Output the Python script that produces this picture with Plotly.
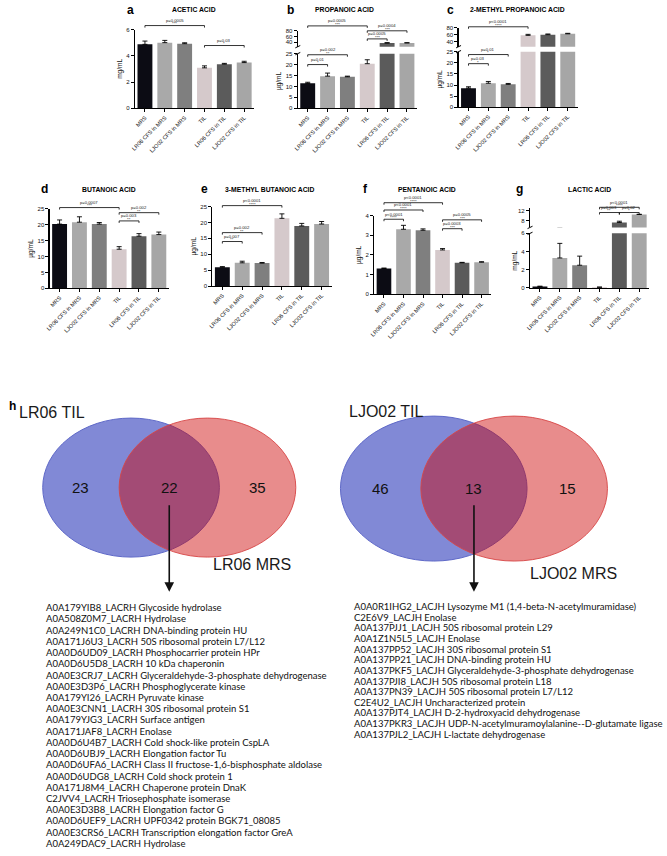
import plotly.graph_objects as go

W, H = 667, 856

# ---------------- data ----------------
categories = ["MRS", "LR06 CFS in MRS", "LJO02 CFS in MRS", "TIL", "LR06 CFS in TIL", "LJO02 CFS in TIL"]

acetic_mean = [4.87, 5.0, 4.92, 3.08, 3.36, 3.48]
acetic_sd = [0.25, 0.17, 0.07, 0.15, 0.06, 0.10]
acetic_sig = [(0, 3, "p=0.0005", "***"), (3, 5, "p=0.03", "*")]

propanoic_mean = [11.4, 14.7, 14.4, 20.4, 37.5, 38.0]
propanoic_sd = [0.5, 1.4, 0.3, 1.8, 1.5, 0.8]
propanoic_sig = [(0, 1, "p=0.01", "*"), (0, 2, "p=0.002", "**"), (0, 3, "p=0.0005", "***"),
                 (3, 4, "p=0.0005", "***"), (3, 5, "p=0.0004", "***")]

methylpropanoic_mean = [8.6, 10.8, 10.3, 58.0, 60.0, 62.5]
methylpropanoic_sd = [0.6, 0.8, 0.4, 3.0, 2.0, 1.5]
methylpropanoic_sig = [(0, 1, "p=0.03", "*"), (0, 2, "p=0.01", "*"), (0, 3, "p<0.0001", "****")]

butanoic_mean = [20.2, 20.8, 20.2, 12.3, 16.4, 16.9]
butanoic_sd = [1.3, 1.7, 0.5, 0.8, 0.8, 0.8]
butanoic_sig = [(0, 3, "p=0.0007", "***"), (3, 5, "p=0.002", "**"), (3, 4, "p=0.003", "**")]

methylbutanoic_mean = [5.9, 7.3, 7.2, 21.3, 18.9, 19.5]
methylbutanoic_sd = [0.2, 0.5, 0.2, 1.4, 0.8, 0.8]
methylbutanoic_sig = [(0, 1, "p=0.007", "**"), (0, 2, "p=0.002", "**"), (0, 3, "p<0.0001", "****")]

pentanoic_mean = [1.31, 3.30, 3.25, 2.25, 1.60, 1.63]
pentanoic_sd = [0.02, 0.20, 0.07, 0.07, 0.02, 0.02]
pentanoic_sig = [(0, 1, "p<0.0001", "****"), (0, 2, "p<0.0001", "****"), (0, 3, "p<0.0001", "****"),
                 (3, 4, "p=0.0003", "***"), (3, 5, "p=0.0005", "***")]

lactic_mean = [0.15, 3.3, 2.5, 0.08, 7.2, 10.4]
lactic_sd = [0.05, 1.6, 1.0, 0.02, 0.5, 0.1]
lactic_sig = [(3, 4, "p=0.003", "**"), (4, 5, "p=0.02", "*"), (3, 5, "p<0.0001", "****")]

venn_left_sets = ["LR06 TIL", "LR06 MRS"]
venn_left_counts = [23, 22, 35]
venn_right_sets = ["LJO02 TIL", "LJO02 MRS"]
venn_right_counts = [46, 13, 15]

left_proteins = [
    "A0A179YIB8_LACRH Glycoside hydrolase",
    "A0A508Z0M7_LACRH Hydrolase",
    "A0A249N1C0_LACRH DNA-binding protein HU",
    "A0A171J6U3_LACRH 50S ribosomal protein L7/L12",
    "A0A0D6UD09_LACRH Phosphocarrier protein HPr",
    "A0A0D6U5D8_LACRH 10 kDa chaperonin",
    "A0A0E3CRJ7_LACRH Glyceraldehyde-3-phosphate dehydrogenase",
    "A0A0E3D3P6_LACRH Phosphoglycerate kinase",
    "A0A179YI26_LACRH Pyruvate kinase",
    "A0A0E3CNN1_LACRH 30S ribosomal protein S1",
    "A0A179YJG3_LACRH Surface antigen",
    "A0A171JAF8_LACRH Enolase",
    "A0A0D6U4B7_LACRH Cold shock-like protein CspLA",
    "A0A0D6UBJ9_LACRH Elongation factor Tu",
    "A0A0D6UFA6_LACRH Class II fructose-1,6-bisphosphate aldolase",
    "A0A0D6UDG8_LACRH Cold shock protein 1",
    "A0A171J8M4_LACRH Chaperone protein DnaK",
    "C2JVV4_LACRH Triosephosphate isomerase",
    "A0A0E3D3B8_LACRH Elongation factor G",
    "A0A0D6UEF9_LACRH UPF0342 protein BGK71_08085",
    "A0A0E3CRS6_LACRH Transcription elongation factor GreA",
    "A0A249DAC9_LACRH Hydrolase",
]
right_proteins = [
    "A0A0R1IHG2_LACJH Lysozyme M1 (1,4-beta-N-acetylmuramidase)",
    "C2E6V9_LACJH Enolase",
    "A0A137PJJ1_LACJH 50S ribosomal protein L29",
    "A0A1Z1N5L5_LACJH Enolase",
    "A0A137PP52_LACJH 30S ribosomal protein S1",
    "A0A137PP21_LACJH DNA-binding protein HU",
    "A0A137PKF5_LACJH Glyceraldehyde-3-phosphate dehydrogenase",
    "A0A137PJI8_LACJH 50S ribosomal protein L18",
    "A0A137PN39_LACJH 50S ribosomal protein L7/L12",
    "C2E4U2_LACJH Uncharacterized protein",
    "A0A137PJT4_LACJH D-2-hydroxyacid dehydrogenase",
    "A0A137PKR3_LACJH UDP-N-acetylmuramoylalanine--D-glutamate ligase",
    "A0A137PJL2_LACJH L-lactate dehydrogenase",
]

# ---------------- styling / layout ----------------
bar_colors = ["#0c0c14", "#a9a9a9", "#7f7f7f", "#d5c9cb", "#5b5b5b", "#a6a6a6"]
FONT = "Liberation Sans, Arial, sans-serif"


def fx(p):
    return p / W


def fy(p):
    return 1 - p / H


# segment: (bottom_px, top_px, r0, r1, ticks)
panels = [
    dict(letter="a", title="ACETIC ACID", unit="mg/mL", mean=acetic_mean, sd=acetic_sd, sig=acetic_sig,
         x=(131, 251), lo=(106, 26.7, 0, 6, [0, 2, 4, 6]), hi=None,
         title_xy=(190, 7), letter_xy=(126, 7), levels=[("lo", 6.3), ("lo", 4.78)]),
    dict(letter="b", title="PROPANOIC ACID", unit="\u00b5g/mL", mean=propanoic_mean, sd=propanoic_sd,
         sig=propanoic_sig, x=(295, 415), lo=(106, 51, 0, 25, [0, 5, 10, 15, 20, 25]),
         hi=(44, 28, 25, 80, [40, 60, 80]),
         title_xy=(342, 7), letter_xy=(288, 7),
         levels=[("lo", 20.0), ("lo", 24.5), ("hi", 97), ("hi", 52), ("hi", 80)]),
    dict(letter="c", title="2-METHYL PROPANOIC ACID", unit="\u00b5g/mL", mean=methylpropanoic_mean,
         sd=methylpropanoic_sd, sig=methylpropanoic_sig, x=(457, 577),
         lo=(105, 49, 0, 25, [0, 5, 10, 15, 20, 25]), hi=(44, 25, 25, 80, [40, 60, 80]),
         title_xy=(516, 7), letter_xy=(449, 7),
         levels=[("lo", 19.6), ("lo", 23.7), ("hi", 83)]),
    dict(letter="d", title="BUTANOIC ACID", unit="\u00b5g/mL", mean=butanoic_mean, sd=butanoic_sd,
         sig=butanoic_sig, x=(45, 165), lo=(287.3, 207.3, 0, 25, [0, 5, 10, 15, 20, 25]), hi=None,
         title_xy=(105, 188), letter_xy=(40, 187),
         levels=[("lo", 25.4), ("lo", 23.8), ("lo", 21.2)]),
    dict(letter="e", title="3-METHYL BUTANOIC ACID", unit="\u00b5g/mL", mean=methylbutanoic_mean,
         sd=methylbutanoic_sd, sig=methylbutanoic_sig, x=(209, 329),
         lo=(285, 205, 0, 25, [0, 5, 10, 15, 20, 25]), hi=None,
         title_xy=(266, 188), letter_xy=(201, 187),
         levels=[("lo", 14.0), ("lo", 16.8), ("lo", 25.3)]),
    dict(letter="f", title="PENTANOIC ACID", unit="\u00b5g/mL", mean=pentanoic_mean, sd=pentanoic_sd,
         sig=pentanoic_sig, x=(372, 490), lo=(293.3, 214, 0, 4, [0, 1, 2, 3, 4]), hi=None,
         title_xy=(425, 188), letter_xy=(363, 187),
         levels=[("lo", 3.81), ("lo", 4.28), ("lo", 4.65), ("lo", 3.33), ("lo", 3.78)]),
    dict(letter="g", title="LACTIC ACID", unit="mg/mL", mean=lactic_mean, sd=lactic_sd, sig=lactic_sig,
         x=(529, 649), lo=(287, 232, 0, 6, [0, 2, 4, 6]), hi=(226, 206, 5.2, 13.2, [8, 12]),
         title_xy=(589, 188), letter_xy=(518, 187),
         levels=[("hi", 11.2), ("hi", 11.2), ("hi", 13.3)]),
]


def seg_to_paper(seg, v):
    ybot, ytop, r0, r1 = seg[0], seg[1], seg[2], seg[3]
    return fy(ybot - (v - r0) / (r1 - r0) * (ybot - ytop))


def axkey(kind, n):
    return (kind + "axis") if n == 1 else f"{kind}axis{n}"


def axref(kind, n):
    return kind if n == 1 else f"{kind}{n}"


fig = go.Figure()
layout = {}
shapes = []
annotations = []

axis_common = dict(showline=True, linecolor="black", linewidth=1.2, ticks="outside", ticklen=3,
                   tickwidth=1, tickcolor="black", showgrid=False, zeroline=False, fixedrange=True)

yn = 0
for k, p in enumerate(panels):
    xn = k + 1
    xr = axref("x", xn)
    segs = [("lo", p["lo"])]
    if p["hi"] is not None:
        segs.append(("hi", p["hi"]))
    yrefs = {}
    for name, seg in segs:
        yn += 1
        yr = axref("y", yn)
        yrefs[name] = yr
        ybot, ytop, r0, r1, ticks = seg
        ydict = dict(axis_common, domain=[fy(ybot), fy(ytop)], anchor=xr, range=[r0, r1],
                     tickvals=ticks, tickfont=dict(size=6, family=FONT, color="#111"))
        if name == "lo":
            ydict["title"] = dict(text=p["unit"], font=dict(size=6.5, family=FONT, color="#111"),
                                  standoff=3)
        layout[axkey("y", yn)] = ydict
        fig.add_trace(go.Bar(
            x=categories, y=p["mean"], xaxis=xr, yaxis=yr, width=0.75,
            marker=dict(color=bar_colors, line=dict(width=0)),
            error_y=dict(type="data", array=p["sd"], arrayminus=[0] * len(p["sd"]), symmetric=False,
                         color="black", thickness=0.9, width=2.5),
            showlegend=False, hoverinfo="skip"))
    layout[axkey("x", xn)] = dict(axis_common, domain=[fx(p["x"][0]), fx(p["x"][1])],
                                  anchor=yrefs["lo"], type="category", range=[-0.5, 5.5],
                                  categoryorder="array", categoryarray=categories, tickangle=-45,
                                  tickfont=dict(size=5.6, family=FONT, color="#111"))
    # axis break marks
    if p["hi"] is not None:
        ax0 = p["x"][0]
        for yb in (p["lo"][1], p["hi"][0]):
            shapes.append(dict(type="line", xref="paper", yref="paper",
                               x0=fx(ax0 - 2.5), x1=fx(ax0 + 2.5), y0=fy(yb + 1.2), y1=fy(yb - 1.2),
                               line=dict(color="black", width=1)))
    # titles
    annotations.append(dict(text=f"<b>{p['title']}</b>", x=fx(p["title_xy"][0]), y=fy(p["title_xy"][1]),
                            xref="paper", yref="paper", showarrow=False, xanchor="center",
                            yanchor="middle", font=dict(size=6.8, family=FONT, color="black")))
    annotations.append(dict(text=f"<b>{p['letter']}</b>", x=fx(p["letter_xy"][0]), y=fy(p["letter_xy"][1]),
                            xref="paper", yref="paper", showarrow=False, xanchor="center",
                            yanchor="middle", font=dict(size=12, family=FONT, color="black")))
    # significance brackets
    segmap = dict(segs)
    for (i, j, ptxt, stars), (segname, lvl) in zip(p["sig"], p["levels"]):
        yp = seg_to_paper(segmap[segname], lvl)
        drop = 2.0 / H
        shapes.append(dict(type="line", xref=xr, yref="paper", x0=i, x1=j, y0=yp, y1=yp,
                           line=dict(color="black", width=0.8)))
        for xx in (i, j):
            shapes.append(dict(type="line", xref=xr, yref="paper", x0=xx, x1=xx, y0=yp, y1=yp - drop,
                               line=dict(color="black", width=0.8)))
        annotations.append(dict(text=stars, x=(i + j) / 2, y=yp + 1.6 / H, xref=xr,
                                yref="paper", showarrow=False, xanchor="center", yanchor="middle",
                                borderpad=0, font=dict(size=4.2, family=FONT, color="#222")))
        annotations.append(dict(text=ptxt, x=(i + j) / 2, y=yp + 5.2 / H, xref=xr,
                                yref="paper", showarrow=False, xanchor="center", yanchor="middle",
                                borderpad=0, font=dict(size=4.2, family=FONT, color="#222")))

# ---------------- Venn diagrams ----------------
annotations.append(dict(text="<b>h</b>", x=fx(8), y=fy(406), xref="paper", yref="paper", showarrow=False,
                        xanchor="center", yanchor="middle", font=dict(size=12, family=FONT, color="black")))

venns = [
    dict(sets=venn_left_sets, counts=venn_left_counts, cy=488, rx=89, ry=70, bx=127, rxc=204,
         set_pos=[(12, 412), (208, 565)], arrow_top=505, arrow_tip=593,
         proteins=left_proteins, list_x=40, list_y0=609, list_dy=11.3),
    dict(sets=venn_right_sets, counts=venn_right_counts, cy=489, rx=94, ry=73, bx=432, rxc=513,
         set_pos=[(345, 411), (527, 575)], arrow_top=505, arrow_tip=593,
         proteins=right_proteins, list_x=351, list_y0=608, list_dy=10.7),
]
for v in venns:
    cy, rx, ry = v["cy"], v["rx"], v["ry"]
    shapes.append(dict(type="circle", xref="paper", yref="paper", x0=fx(v["bx"] - rx), x1=fx(v["bx"] + rx),
                       y0=fy(cy + ry), y1=fy(cy - ry), fillcolor="rgb(129,137,214)",
                       line=dict(color="rgb(95,105,200)", width=1), layer="above"))
    shapes.append(dict(type="circle", xref="paper", yref="paper", x0=fx(v["rxc"] - rx), x1=fx(v["rxc"] + rx),
                       y0=fy(cy + ry), y1=fy(cy - ry), fillcolor="rgba(204,0,0,0.45)",
                       line=dict(color="rgba(215,70,70,0.9)", width=1), layer="above"))
    left_only_x = (v["bx"] - rx + v["rxc"] - rx) / 2
    inter_x = (v["rxc"] - rx + v["bx"] + rx) / 2
    right_only_x = (v["bx"] + rx + v["rxc"] + rx) / 2
    for cx, n in zip([left_only_x, inter_x, right_only_x], v["counts"]):
        annotations.append(dict(text=str(n), x=fx(cx), y=fy(cy), xref="paper", yref="paper",
                                showarrow=False, xanchor="center", yanchor="middle",
                                font=dict(size=15, family=FONT, color="#111")))
    for (sx, sy), name in zip(v["set_pos"], v["sets"]):
        annotations.append(dict(text=name, x=fx(sx), y=fy(sy), xref="paper", yref="paper",
                                showarrow=False, xanchor="left", yanchor="middle",
                                font=dict(size=16, family=FONT, color="#1a1a1a")))
    annotations.append(dict(text="", x=fx(inter_x), y=fy(v["arrow_tip"]), xref="paper", yref="paper",
                            showarrow=True, ax=0, ay=-(v["arrow_tip"] - v["arrow_top"]),
                            arrowhead=2, arrowsize=1.2, arrowwidth=1.6, arrowcolor="#111"))
    for idx, line in enumerate(v["proteins"]):
        annotations.append(dict(text=line, x=fx(v["list_x"]), y=fy(v["list_y0"] + idx * v["list_dy"]),
                                xref="paper", yref="paper", showarrow=False, xanchor="left",
                                yanchor="middle", borderpad=0,
                                font=dict(size=9.5, family="Lato, Carlito, sans-serif", color="#111")))

fig.update_layout(
    width=W, height=H, margin=dict(l=0, r=0, t=0, b=0), autosize=False,
    paper_bgcolor="white", plot_bgcolor="white", showlegend=False,
    font=dict(family=FONT, color="black"),
    shapes=shapes, annotations=annotations, **layout)

fig.write_html("out.html", config={"displayModeBar": False, "staticPlot": True},
               post_script="document.body.style.margin='0';")
